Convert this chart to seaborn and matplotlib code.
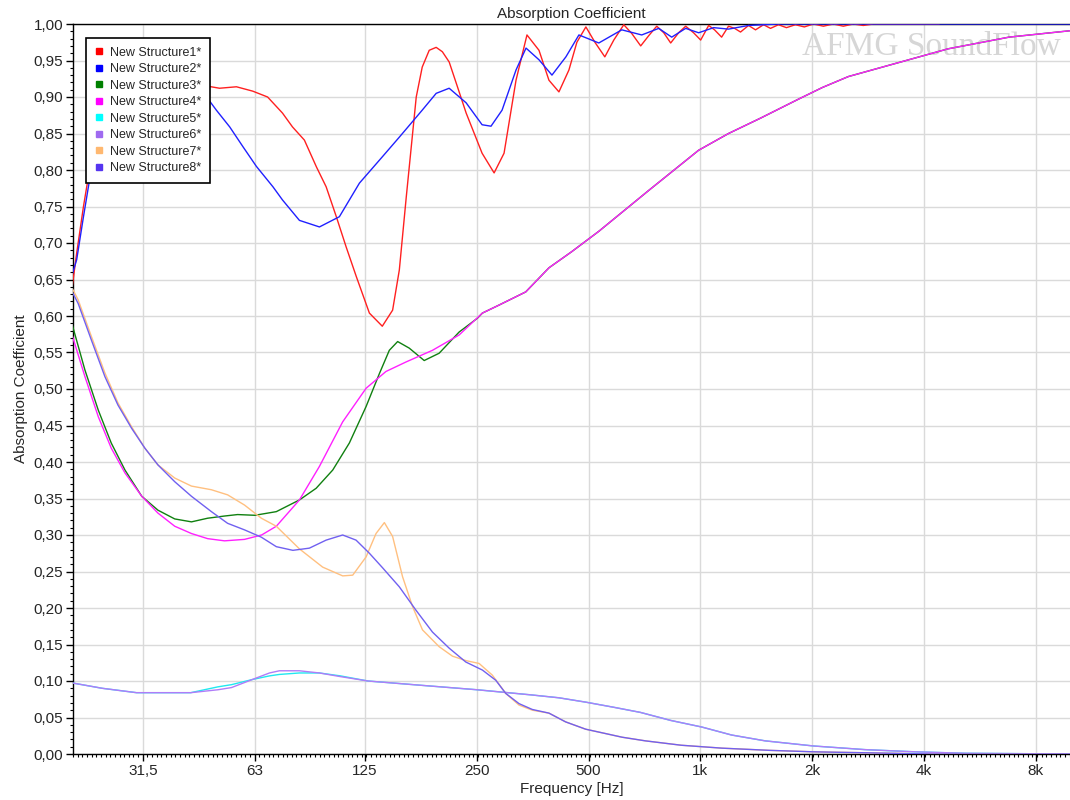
import numpy as np
import pandas as pd
import matplotlib
matplotlib.use("Agg")
import matplotlib.pyplot as plt
from matplotlib.ticker import FixedLocator, MultipleLocator, FuncFormatter, NullFormatter
from matplotlib.lines import Line2D
import seaborn as sns

# Absorption data (frequency in Hz, alpha 0..1)
s1_freq = [20, 20.9, 21.8, 22.7, 23.7, 25.2, 26.8, 28.5, 30.3, 32.2, 34.3, 37.2, 40.4, 43.0, 45.7,
           50.7, 56.3, 62.3, 68.3, 74.9, 79.7, 85.8, 92.5, 98.2, 104.6, 111.1, 118.4, 128.4, 139.1,
           148.3, 154.6, 161.4, 171.7, 178.2, 186.1, 194.3, 201.9, 210.6, 221.7, 234, 258.3, 278.3,
           296, 318.8, 341.2, 367.6, 391, 416, 442.6, 465, 491.7, 520, 553, 584.6, 622, 653.6, 690.8,
           726, 763, 797, 832, 874, 913, 959, 1002, 1053, 1092, 1141, 1191, 1237, 1283, 1348, 1408,
           1480, 1545, 1623, 1706, 1803, 1906, 2016, 2145, 2281, 2427, 2582, 2747, 2923, 4400]
s1_alpha = [0.613, 0.686, 0.75, 0.804, 0.855, 0.905, 0.942, 0.964, 0.974, 0.979, 0.976, 0.964, 0.948,
            0.933, 0.916, 0.912, 0.914, 0.908, 0.90, 0.878, 0.859, 0.841, 0.804, 0.777, 0.736, 0.695,
            0.654, 0.604, 0.586, 0.608, 0.663, 0.763, 0.90, 0.941, 0.964, 0.968, 0.962, 0.948, 0.914,
            0.878, 0.823, 0.796, 0.823, 0.923, 0.985, 0.964, 0.923, 0.907, 0.937, 0.975, 0.996, 0.975,
            0.955, 0.978, 0.999, 0.987, 0.970, 0.984, 0.997, 0.988, 0.974, 0.988, 0.997, 0.988, 0.978,
            0.998, 0.992, 0.982, 0.997, 0.994, 0.989, 0.998, 0.992, 0.999, 0.994, 0.999, 0.995, 0.999,
            0.996, 1.0, 0.997, 1.0, 0.997, 1.0, 0.998, 1.0, 1.0]

s2_freq = [20, 20.9, 21.8, 22.7, 23.7, 25.2, 26.8, 28.5, 30.9, 32.9, 35.7, 38.8, 42.1, 45.7, 49.7,
           54.0, 58.6, 63.7, 70.6, 74.9, 83.2, 94.2, 106.6, 120.7, 139.1, 154.6, 178.2, 194.3, 210.6,
           234, 258.3, 273, 292.4, 318.8, 339.2, 367.6, 398.4, 434.4, 470.9, 532.7, 614.3, 695.2,
           772.5, 837.3, 913, 989.4, 1086, 1191, 1348, 1623, 10000]
s2_alpha = [0.645, 0.677, 0.736, 0.79, 0.841, 0.896, 0.933, 0.955, 0.969, 0.973, 0.967, 0.953, 0.930,
            0.907, 0.882, 0.859, 0.832, 0.805, 0.777, 0.759, 0.731, 0.722, 0.736, 0.782, 0.818, 0.845,
            0.882, 0.905, 0.912, 0.892, 0.862, 0.860, 0.882, 0.937, 0.967, 0.951, 0.930, 0.955, 0.985,
            0.974, 0.992, 0.985, 0.994, 0.982, 0.994, 0.988, 0.995, 0.993, 0.998, 1.0, 1.0]

s3_freq = [20, 22.0, 23.9, 25.9, 28.2, 31.3, 34.6, 38.4, 42.6, 47.1, 52.3, 56.7, 63.1, 72.1, 83.2,
           92.3, 102.3, 113.4, 125.8, 136.6, 145.3, 153, 164.4, 180.4, 197.9, 224, 251]
s3_alpha = [0.601, 0.526, 0.471, 0.426, 0.389, 0.353, 0.334, 0.322, 0.318, 0.323, 0.326, 0.328, 0.327,
            0.332, 0.348, 0.364, 0.389, 0.426, 0.476, 0.521, 0.553, 0.565, 0.556, 0.539, 0.549, 0.578,
            0.597]

s4_freq = [20, 22.0, 23.9, 25.9, 28.2, 31.3, 34.6, 38.4, 42.6, 47.1, 52.3, 59.2, 65.8, 72.1, 83.2,
           94.2, 108.8, 125.8, 142.3, 161.1, 189.9, 224]
s4_alpha = [0.585, 0.517, 0.462, 0.419, 0.385, 0.353, 0.330, 0.312, 0.302, 0.295, 0.292, 0.294, 0.30,
            0.312, 0.348, 0.394, 0.455, 0.501, 0.524, 0.537, 0.553, 0.574]

# upper part shared by structures 3 and 4 (they coincide above ~250 Hz)
s34_freq = [258.8, 287, 338.6, 391, 450, 532.7, 726, 989, 1191, 1452, 1837, 2131, 2504, 3412, 4648,
            6782, 10000]
s34_alpha = [0.604, 0.615, 0.633, 0.666, 0.688, 0.716, 0.772, 0.827, 0.85, 0.871, 0.897, 0.913, 0.928,
             0.947, 0.966, 0.982, 0.991]

s56_freq = [20, 24.5, 30.3, 42.4, 50.2, 54.6, 62.1, 69.1, 73.5, 83.2, 94.2, 107.3]
s5_alpha = [0.098, 0.090, 0.084, 0.084, 0.092, 0.095, 0.102, 0.107, 0.109, 0.111, 0.111, 0.107]
s6_alpha = [0.098, 0.090, 0.084, 0.084, 0.088, 0.091, 0.102, 0.111, 0.114, 0.114, 0.111, 0.106]
s56_tail_freq = [127.3, 178.2, 250.5, 349.8, 416, 491.7, 584.6, 689.3, 832, 1008, 1214, 1495, 2016,
                 2777, 3784, 5166, 10000]
s56_tail_alpha = [0.100, 0.094, 0.088, 0.081, 0.077, 0.071, 0.064, 0.057, 0.046, 0.037, 0.026, 0.018,
                  0.011, 0.006, 0.003, 0.001, 0.0]

s7_freq = [20, 21.1, 22.9, 24.9, 27.0, 29.4, 31.9, 34.6, 38.4, 42.6, 48.2, 53.3, 59.2, 65.7, 72.1,
           83.2, 96.1, 108.8, 115.8, 125.8, 133.8, 140.9, 148.3, 157.7, 167.8, 178.5, 197.9, 215,
           233.5, 253.6, 275.3, 299.1, 324.8, 352.7]
s7_alpha = [0.645, 0.622, 0.572, 0.522, 0.481, 0.448, 0.419, 0.396, 0.378, 0.367, 0.362, 0.355, 0.341,
            0.323, 0.312, 0.281, 0.256, 0.244, 0.245, 0.270, 0.302, 0.317, 0.298, 0.243, 0.202, 0.170,
            0.147, 0.134, 0.128, 0.124, 0.108, 0.083, 0.067, 0.060]

s8_freq = [20, 21.1, 22.9, 24.9, 27.0, 29.4, 31.9, 34.6, 38.4, 42.6, 48.2, 53.3, 59.2, 65.7, 72.1,
           79.9, 88.5, 98.2, 108.8, 118.2, 128.4, 139.4, 154.6, 171.4, 189.9, 210.6, 233.5, 258.8,
           281.2, 299.1, 324.8, 352.7]
s8_alpha = [0.64, 0.617, 0.567, 0.517, 0.478, 0.446, 0.419, 0.396, 0.373, 0.353, 0.332, 0.316, 0.307,
            0.297, 0.284, 0.279, 0.282, 0.293, 0.300, 0.293, 0.275, 0.255, 0.229, 0.197, 0.167, 0.145,
            0.126, 0.115, 0.101, 0.083, 0.069, 0.061]

s78_tail_freq = [391, 433.6, 490.9, 555.4, 615.5, 711.3, 888.4, 1008, 1144, 1535, 2016, 4186, 10000]
s78_tail_alpha = [0.056, 0.044, 0.034, 0.028, 0.023, 0.018, 0.012, 0.010, 0.008, 0.005, 0.003, 0.0, 0.0]

names = ["New Structure1*", "New Structure2*", "New Structure3*", "New Structure4*",
         "New Structure5*", "New Structure6*", "New Structure7*", "New Structure8*"]
line_colors = ["#FF2020", "#2020FF", "#108010", "#FF20FF", "#20E8F0", "#B07CF8", "#FFC080", "#7060F0"]
legend_colors = ["#FF0000", "#0000FF", "#008000", "#FF00FF", "#00FFFF", "#9F6AF0", "#FFB870", "#5535F0"]

x_tick_vals = [31.5, 63, 125, 250, 500, 1000, 2000, 4000, 8000]
x_tick_labels = ["31,5", "63", "125", "250", "500", "1k", "2k", "4k", "8k"]

# long form table
series = [
    (names[0], s1_freq, s1_alpha),
    (names[1], s2_freq, s2_alpha),
    (names[2], s3_freq + s34_freq, s3_alpha + s34_alpha),
    (names[3], s4_freq + s34_freq, s4_alpha + s34_alpha),
    (names[4], s56_freq + s56_tail_freq, s5_alpha + s56_tail_alpha),
    (names[5], s56_freq + s56_tail_freq, s6_alpha + s56_tail_alpha),
    (names[6], s7_freq + s78_tail_freq, s7_alpha + s78_tail_alpha),
    (names[7], s8_freq + s78_tail_freq, s8_alpha + s78_tail_alpha),
]
df = pd.concat([pd.DataFrame({"freq": f, "alpha": a, "name": n}) for n, f, a in series],
               ignore_index=True)

sns.set_style("white")
plt.rcParams['font.family'] = ['Liberation Sans', 'DejaVu Sans']

fig, ax = plt.subplots(figsize=(10.7, 8), dpi=100)
fig.subplots_adjust(left=0.068, right=1.0, bottom=0.0575, top=0.97)

sns.lineplot(data=df, x="freq", y="alpha", hue="name", hue_order=names,
             palette=dict(zip(names, line_colors)), estimator=None, sort=False,
             legend=False, linewidth=1.0, ax=ax, zorder=3)

ax.set_xscale("log")
ax.set_xlim(20.4, 9900)
ax.set_ylim(0, 1.0)

ax.set_xticks(x_tick_vals)
ax.set_xticklabels(x_tick_labels)
ax.xaxis.set_minor_locator(FixedLocator([31.5 * 2 ** (k / 24) for k in range(-16, 220)]))
ax.xaxis.set_minor_formatter(NullFormatter())

ax.yaxis.set_major_locator(MultipleLocator(0.05))
ax.yaxis.set_minor_locator(MultipleLocator(0.01))
ax.yaxis.set_major_formatter(FuncFormatter(lambda v, p: f"{v:.2f}".replace(".", ",")))

ax.tick_params(which="major", direction="out", length=5, width=1, color="black",
               labelsize=11, left=True, bottom=True, pad=2)
ax.tick_params(which="minor", direction="out", length=2.5, width=0.8, color="black",
               left=True, bottom=True)

ax.grid(True, which="major", color="#DADADA", linewidth=1.0)
ax.set_axisbelow(True)

for side in ["left", "bottom", "top"]:
    ax.spines[side].set_color("black")
    ax.spines[side].set_linewidth(1.0)
ax.spines["right"].set_visible(False)

ax.set_title("Absorption Coefficient", fontsize=11, pad=4)
ax.set_xlabel("Frequency [Hz]", fontsize=11, labelpad=3)
ax.set_ylabel("Absorption Coefficient", fontsize=11, labelpad=4)

# watermark
ax.text(0.991, 0.958, "AFMG SoundFlow", transform=ax.transAxes, ha="right", va="baseline",
        fontsize=24, family=["Liberation Serif", "DejaVu Serif"], color="#D6D6D6", zorder=1)

handles = [Line2D([], [], marker="s", linestyle="none", markersize=5, color=c) for c in legend_colors]
leg = ax.legend(handles, names, loc="upper left", bbox_to_anchor=(0.013, 0.981), frameon=True,
                fancybox=False, edgecolor="black", framealpha=1, fontsize=9, handlelength=0.8,
                handletextpad=0.45, borderpad=0.7, labelspacing=0.36, borderaxespad=0)
leg.get_frame().set_linewidth(1.2)
leg.set_zorder(5)

plt.savefig("out.png", dpi=100)
